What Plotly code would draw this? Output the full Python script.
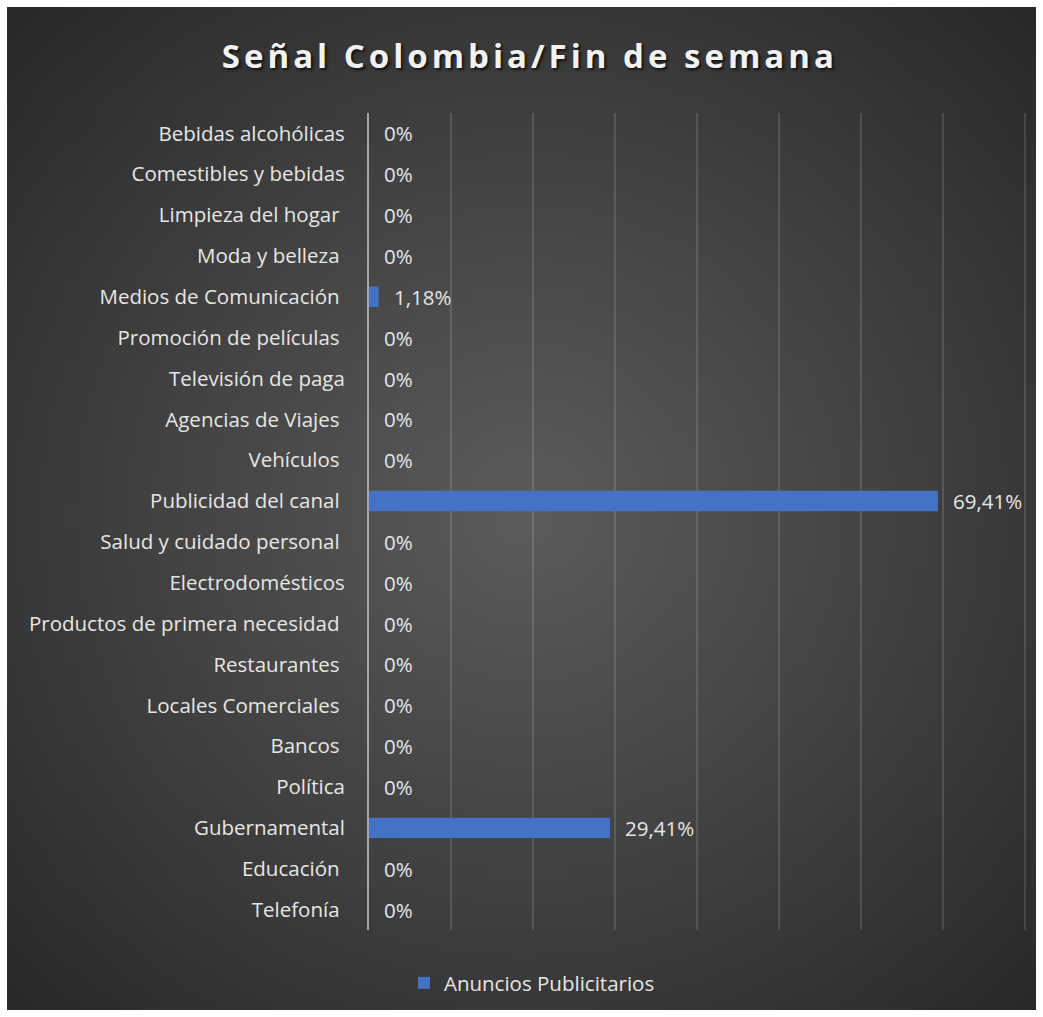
import base64, struct, zlib
import plotly.graph_objects as go

categories = [
    "Bebidas alcohólicas", "Comestibles y bebidas", "Limpieza del hogar ", "Moda y belleza ",
    "Medios de Comunicación ", "Promoción de películas ", "Televisión de paga", "Agencias de Viajes ",
    "Vehículos ", "Publicidad del canal ", "Salud y cuidado personal ", "Electrodomésticos",
    "Productos de primera necesidad ", "Restaurantes ", "Locales Comerciales ", "Bancos ",
    "Política", "Gubernamental", "Educación ", "Telefonía ",
]
values = [0, 0, 0, 0, 0.0118, 0, 0, 0, 0, 0.6941, 0, 0, 0, 0, 0, 0, 0, 0.2941, 0, 0]
series_name = "Anuncios Publicitarios"
title_text = "Señal Colombia/Fin de semana"


def pct_label(v):
    if v == 0:
        return "0%"
    return f"{v*100:.2f}%".replace(".", ",")


labels = [pct_label(v) for v in values]

W, H = 1043, 1017
ML, MR, MT, MB = 369, 17, 113, 87
PW, PH = W - ML - MR, H - MT - MB


# radial gradient background image (style only)
def make_png(w, h):
    cx, cy = w * 0.5, h * 0.5
    maxd = ((cx) ** 2 + (cy) ** 2) ** 0.5
    rows = []
    for j in range(h):
        row = bytearray([0])
        for i in range(w):
            d = (((i - cx)) ** 2 + ((j - cy)) ** 2) ** 0.5 / maxd
            d = min(1.0, d)
            c = int(round(92 * (1 - d) + 40 * d))
            row.append(c)
        rows.append(bytes(row))
    raw = b"".join(rows)

    def chunk(t, data):
        return struct.pack(">I", len(data)) + t + data + struct.pack(">I", zlib.crc32(t + data) & 0xffffffff)

    png = b"\x89PNG\r\n\x1a\n" + chunk(b"IHDR", struct.pack(">IIBBBBB", w, h, 8, 0, 0, 0, 0)) \
        + chunk(b"IDAT", zlib.compress(raw, 9)) + chunk(b"IEND", b"")
    return "data:image/png;base64," + base64.b64encode(png).decode()


bg_src = make_png(120, 120)

# background extent in pixels: x 7..1036, y 7..1010
bx0, bx1, by0, by1 = 7, 1036, 7, 1010
img_x0 = (bx0 - ML) / PW
img_sx = (bx1 - bx0) / PW
img_ytop = 1 - (by0 - MT) / PH
img_sy = (by1 - by0) / PH

FONT = "Open Sans"
FS = 20.5
TXT = "#e6e6e6"

fig = go.Figure()
fig.add_trace(go.Bar(
    y=categories, x=values, orientation="h", name=series_name,
    marker=dict(color="#4472c4", line=dict(width=0)),
    width=0.5, showlegend=True,
))

annotations = []
for c, v, lab in zip(categories, values, labels):
    annotations.append(dict(
        x=v, y=c, xref="x", yref="y", text=lab, showarrow=False,
        xanchor="left", yanchor="middle", xshift=13,
        font=dict(family=FONT, size=FS, color=TXT),
    ))

fig.update_layout(
    width=W, height=H,
    margin=dict(l=ML, r=MR, t=MT, b=MB),
    paper_bgcolor="white",
    plot_bgcolor="rgba(0,0,0,0)",
    images=[dict(source=bg_src, xref="paper", yref="paper", x=img_x0, y=img_ytop,
                 sizex=img_sx, sizey=img_sy, xanchor="left", yanchor="top",
                 sizing="stretch", layer="below")],
    title=dict(text=f"<b>{title_text}</b>", x=0.508, xref="container", xanchor="center",
               y=1 - 56 / H, yref="container", yanchor="middle",
               font=dict(family=FONT, size=33, color="#f2f2f2", shadow="2px 2px 3px rgba(0,0,0,0.7)")),
    xaxis=dict(range=[0, 0.8015], dtick=0.1, showticklabels=False, showgrid=True,
               gridcolor="rgba(255,255,255,0.13)", gridwidth=1.5, zeroline=False,
               showline=False, fixedrange=True),
    yaxis=dict(categoryorder="array", categoryarray=categories, autorange="reversed",
               showline=True, linecolor="#a6a6a6", linewidth=2, showgrid=False,
               ticks="", ticklabelstandoff=18,
               tickfont=dict(family=FONT, size=FS, color=TXT)),
    legend=dict(orientation="h", x=0.51, xref="container", xanchor="center",
                y=1 - 983 / H, yref="container", yanchor="middle",
                font=dict(family=FONT, size=FS, color=TXT), bgcolor="rgba(0,0,0,0)",
                itemwidth=30),
    annotations=annotations,
    bargap=0.5,
)

post = """
var gd = document.querySelector('.plotly-graph-div');
function ls(){ document.querySelectorAll('.gtitle').forEach(function(e){ e.style.letterSpacing='4px'; }); }
ls();
if (gd && gd.on) { gd.on('plotly_afterplot', ls); }
"""

fig.write_html("out.html", post_script=post)
